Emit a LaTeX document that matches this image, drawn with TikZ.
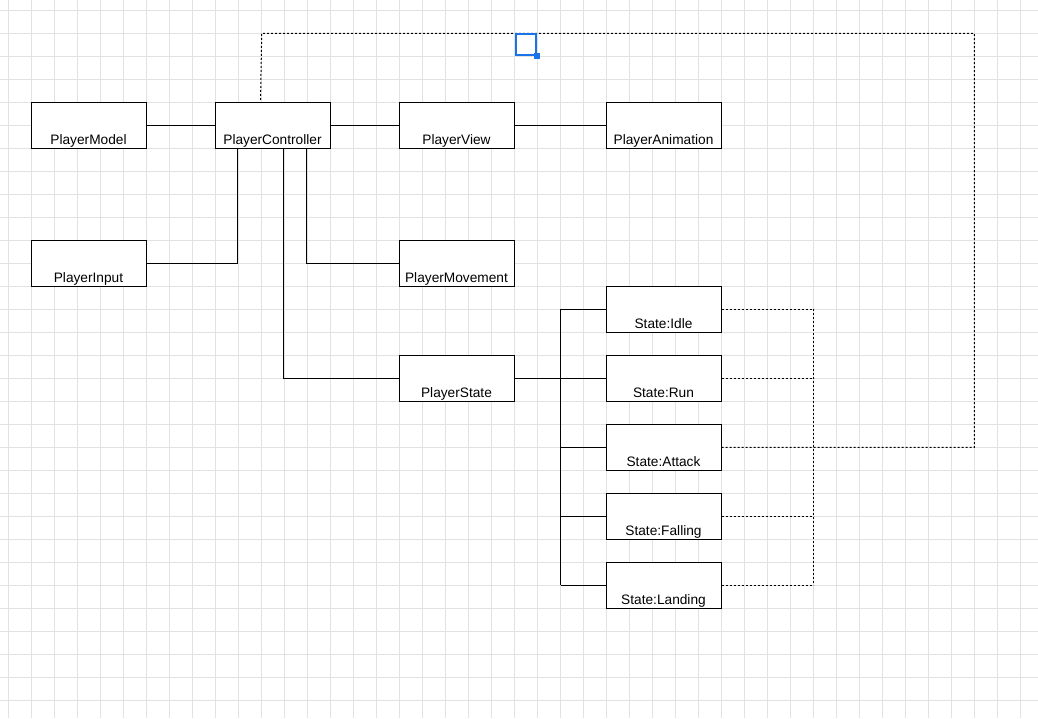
\documentclass[tikz,border=0pt]{standalone}
\usepackage{fontspec}
\setmainfont{Liberation Sans}
\definecolor{gridgray}{RGB}{226,226,226}
\definecolor{selblue}{RGB}{26,115,232}
\begin{document}
\begin{tikzpicture}[x=1pt,y=-1pt,
  cls/.style={draw=black, line width=1pt, minimum width=115pt, minimum height=46pt, inner sep=0pt, fill=white,
              label={[anchor=base, yshift=4.5pt, inner sep=0pt, font=\fontsize{13.7}{16}\selectfont]south:#1}},
  conn/.style={draw=black, line width=1pt},
  dotconn/.style={draw=black, line width=1pt, dash pattern=on 2pt off 2pt},
  gridline/.style={draw=gridgray, line width=1pt}]
\useasboundingbox (0,0) rectangle (1038,718);
\fill[white] (0,0) rectangle (1038,718);
% grid
\foreach \k in {0,...,44} { \draw[gridline] ({8+23*\k},0) -- ({8+23*\k},718); }
\foreach \k in {0,...,30} { \draw[gridline] (0,{10.3+23*\k}) -- (1038,{10.3+23*\k}); }

% nodes
\node[cls=PlayerModel]      (model)  at (88.5,125.3) {};
\node[cls=PlayerController] (ctrl)   at (272.5,125.3) {};
\node[cls=PlayerView]       (view)   at (456.5,125.3) {};
\node[cls=PlayerAnimation]  (anim)   at (663.5,125.3) {};
\node[cls=PlayerInput]      (input)  at (88.5,263.3) {};
\node[cls=PlayerMovement]   (move)   at (456.5,263.3) {};
\node[cls=PlayerState]      (state)  at (456.5,378.3) {};
\node[cls=State:Idle]       (idle)   at (663.5,309.3) {};
\node[cls=State:Run]        (run)    at (663.5,378.3) {};
\node[cls=State:Attack]     (attack) at (663.5,447.3) {};
\node[cls=State:Falling]    (fall)   at (663.5,516.3) {};
\node[cls=State:Landing]    (land)   at (663.5,585.3) {};

\coordinate (bus) at (560.7,0);
\coordinate (dbus) at (813.5,0);
\coordinate (topright) at (974.3,33.3);
\coordinate (topleft) at (261.7,33.3);

% solid connectors
\draw[conn] (model.east) -- (ctrl.west);
\draw[conn] (ctrl.east) -- (view.west);
\draw[conn] (view.east) -- (anim.west);
\draw[conn] ([xshift=23pt]ctrl.south west) |- (input.east);
\draw[conn] ([xshift=92pt]ctrl.south west) |- (move.west);
\draw[conn] ([xshift=69pt]ctrl.south west) |- (state.west);
\draw[conn] (state.east) -- (run.west);
\draw[conn] (bus |- idle.west) -- (bus |- land.west);
\foreach \s in {idle,attack,fall,land} { \draw[conn] (bus |- \s.west) -- (\s.west); }

% dotted connectors
\foreach \s in {idle,run,fall,land} { \draw[dotconn] (\s.east) -- (dbus |- \s.east); }
\draw[dotconn] (dbus |- idle.east) -- (dbus |- land.east);
\draw[dotconn] (attack.east) -- (attack.east -| topright) -- (topright) -- (topleft) -- ([xshift=46pt]ctrl.north west);

% selection marker
\draw[selblue, line width=2pt] (515.7,34.3) rectangle (536.3,54.7);
\fill[selblue] (533.7,52.7) rectangle (540,58.7);
\end{tikzpicture}
\end{document}
